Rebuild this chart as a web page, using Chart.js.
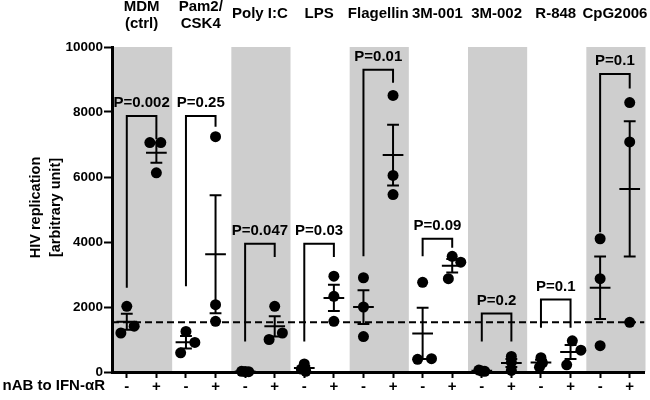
<!DOCTYPE html>
<html>
<head>
<meta charset="utf-8">
<title>HIV replication with TLR agonists</title>
<script src="https://cdn.jsdelivr.net/npm/chart.js@4.4.0/dist/chart.umd.min.js"></script>
<style>
    html, body { margin: 0; padding: 0; background: #fff; }
    #wrap { width: 650px; height: 400px; position: relative; }
</style>
</head>
<body>
<div id="wrap"><canvas id="hivChart"></canvas></div>
<script>
// Data

const groupLabels = [['MDM', '(ctrl)'], ['Pam2/', 'CSK4'], 'Poly I:C', 'LPS', 'Flagellin',
    '3M-001', '3M-002', 'R-848', 'CpG2006'];
const shadedGroups = [0, 2, 4, 6, 8];
const treatmentLabels = ['-', '+'];
const yTicks = [0, 2000, 4000, 6000, 8000, 10000];
const baseline = 1530;

// three donors per group, without (-) and with (+) blocking antibody
const withoutAb = [
    [2020, 1200, 1410],
    [1250, 910, 590],
    [20, 15, 10],
    [250, 90, 20],
    [2900, 2000, 1090],
    [2760, 390, 410],
    [60, 30, 20],
    [440, 280, 150],
    [4100, 2870, 810]
];
const withAb = [
    [7060, 7060, 6130],
    [7240, 2070, 1560],
    [2020, 1200, 1000],
    [2950, 2330, 1560],
    [8510, 6050, 5460],
    [3560, 3380, 2870],
    [480, 300, 50],
    [960, 670, 220],
    [8290, 7080, 1530]
];

// horizontal spread of overlapping dots (in column units)
const jitterWithout = [
    [0, -0.2, 0.25], [0, 0.3, -0.18], [-0.12, 0, 0.12], [0, -0.1, 0.05], [0, 0, 0],
    [0, -0.17, 0.3], [-0.1, 0, 0.1], [0, 0.05, -0.05], [0, 0, 0]
];
const jitterWith = [
    [-0.22, 0.15, 0], [0, 0, 0], [0, 0.26, -0.19], [0, 0, 0], [0, 0, 0],
    [0, 0.29, -0.13], [0, 0, 0], [0.06, 0.35, -0.13], [0, 0, 0]
];

// significance brackets
const pValues = ['P=0.002', 'P=0.25', 'P=0.047', 'P=0.03', 'P=0.01', 'P=0.09', 'P=0.2', 'P=0.1', 'P=0.1'];
const bracketTop = [7880, 7880, 3950, 3950, 9300, 4100, 1800, 2230, 9170];
const bracketLeftEnd = [2590, 2640, 940, 940, 3560, 3560, 940, 1360, 4300];
const bracketRightEnd = [7160, 7550, 3540, 3540, 8900, 3820, 940, 1360, 8720];

const FONT = '"Liberation Sans", Arial, Helvetica, sans-serif';
const CAP_HALF = 0.2;
const MEAN_HALF = 0.35;
const GAP = { x: 0, y: null };

function mean(vals) {
    return vals.reduce((a, b) => a + b, 0) / vals.length;
}

function sem(vals) {
    const m = mean(vals);
    const ss = vals.reduce((a, v) => a + (v - m) * (v - m), 0);
    return Math.sqrt(ss / (vals.length - 1)) / Math.sqrt(vals.length);
}

/**
 * Columns in plotting order: group0 -, group0 +, group1 -, ...
 */
function buildColumns() {
    const cols = [];
    withoutAb.forEach((vals, g) => {
        cols.push({ slot: g * 2, vals, jitter: jitterWithout[g] });
        cols.push({ slot: g * 2 + 1, vals: withAb[g], jitter: jitterWith[g] });
    });
    return cols;
}

const columns = buildColumns();

function buildPoints() {
    const pts = [];
    columns.forEach(c => {
        c.vals.forEach((v, i) => pts.push({ x: c.slot + c.jitter[i], y: v }));
    });
    return pts;
}

function buildErrorBars() {
    const pts = [];
    columns.forEach(c => {
        const m = mean(c.vals);
        const e = sem(c.vals);
        const s = c.slot;
        pts.push({ x: s, y: m - e }, { x: s, y: m + e }, GAP);
        pts.push({ x: s - CAP_HALF, y: m + e }, { x: s + CAP_HALF, y: m + e }, GAP);
        pts.push({ x: s - CAP_HALF, y: m - e }, { x: s + CAP_HALF, y: m - e }, GAP);
        pts.push({ x: s - MEAN_HALF, y: m }, { x: s + MEAN_HALF, y: m }, GAP);
    });
    return pts;
}

function buildBrackets() {
    const pts = [];
    bracketTop.forEach((top, g) => {
        const l = g * 2;
        const r = g * 2 + 1;
        pts.push({ x: l, y: bracketLeftEnd[g] }, { x: l, y: top },
            { x: r, y: top }, { x: r, y: bracketRightEnd[g] }, GAP);
    });
    return pts;
}

/**
 * Grey bands behind every other group, drawn before the axes
 */
const bandsPlugin = {
    id: 'bands',
    beforeDraw(chart) {
        const { ctx, scales: { x, y } } = chart;
        ctx.save();
        ctx.fillStyle = '#cecece';
        shadedGroups.forEach(g => {
            const x0 = x.getPixelForValue(g * 2 - 0.5);
            const x1 = x.getPixelForValue(g * 2 + 1.5);
            const y0 = y.getPixelForValue(yTicks[yTicks.length - 1]);
            const y1 = y.getPixelForValue(0);
            ctx.fillRect(x0 + 1, y0, x1 - x0, y1 - y0);
        });
        ctx.restore();
    }
};

/**
 * Text: group names, p-values, axis titles
 */
const labelsPlugin = {
    id: 'labels',
    afterDraw(chart) {
        const { ctx, scales: { x, y }, chartArea } = chart;
        ctx.save();
        ctx.fillStyle = '#000';
        ctx.textAlign = 'center';
        ctx.textBaseline = 'middle';

        // group names along the top
        ctx.font = 'bold 15px ' + FONT;
        groupLabels.forEach((lab, g) => {
            let cx = x.getPixelForValue(g * 2 + 0.5);
            const lines = Array.isArray(lab) ? lab : [lab];
            const w = Math.max(...lines.map(t => ctx.measureText(t).width));
            cx = Math.min(cx, chart.width - w / 2 - 2);
            if (lines.length === 1) {
                ctx.fillText(lines[0], cx, 14);
            } else {
                ctx.fillText(lines[0], cx, 7);
                ctx.fillText(lines[1], cx, 24);
            }
        });

        // p-values above brackets
        pValues.forEach((p, g) => {
            const cx = x.getPixelForValue(g * 2 + 0.5);
            ctx.fillText(p, cx, y.getPixelForValue(bracketTop[g]) - 13);
        });

        // treatment row label
        ctx.textAlign = 'right';
        ctx.fillText('nAB to IFN-\u03B1R', 105, 386);

        // y axis title
        ctx.font = 'bold 14.5px ' + FONT;
        ctx.textAlign = 'center';
        const cy = (chartArea.top + chartArea.bottom) / 2 - 2;
        ctx.translate(36, cy);
        ctx.rotate(-Math.PI / 2);
        ctx.fillText('HIV replication', 0, 0);
        ctx.fillText('[arbitrary unit]', 0, 20);
        ctx.restore();
    }
};

function initChart() {
    const canvas = document.getElementById('hivChart');
    const ctx = canvas.getContext('2d');
    const slotCount = groupLabels.length * 2;

    new Chart(ctx, {
        type: 'scatter',
        data: {
            datasets: [{
                label: 'Donors',
                data: buildPoints(),
                backgroundColor: '#000',
                borderWidth: 0,
                pointRadius: 5.5,
                clip: false
            }, {
                label: 'Mean ± SEM',
                data: buildErrorBars(),
                showLine: true,
                borderColor: '#000',
                borderWidth: 2,
                pointRadius: 0,
                spanGaps: false
            }, {
                label: 'Brackets',
                data: buildBrackets(),
                showLine: true,
                borderColor: '#000',
                borderWidth: 2,
                pointRadius: 0,
                spanGaps: false
            }, {
                label: 'Baseline',
                data: [{ x: -0.5, y: baseline }, { x: slotCount - 0.5, y: baseline }],
                showLine: true,
                borderColor: '#000',
                borderWidth: 2,
                borderDash: [7, 4],
                pointRadius: 0
            }]
        },
        options: {
            responsive: true,
            maintainAspectRatio: false,
            animation: false,
            events: [],
            layout: {
                padding: { top: 47, right: 1, left: 0, bottom: 0 }
            },
            scales: {
                x: {
                    type: 'linear',
                    min: -0.5,
                    max: slotCount - 0.5,
                    afterBuildTicks: scale => {
                        scale.ticks = Array.from({ length: slotCount }, (_, i) => ({ value: i }));
                    },
                    afterFit: scale => { scale.height = 28; },
                    grid: {
                        drawOnChartArea: false,
                        tickLength: 6,
                        tickWidth: 2,
                        tickColor: '#000'
                    },
                    border: { color: '#000', width: 3 },
                    ticks: {
                        padding: 0,
                        color: '#000',
                        font: { family: FONT, size: 15, weight: 'bold' },
                        maxRotation: 0,
                        autoSkip: false,
                        callback: v => treatmentLabels[v % 2]
                    }
                },
                y: {
                    min: 0,
                    max: yTicks[yTicks.length - 1],
                    afterBuildTicks: scale => {
                        scale.ticks = yTicks.map(v => ({ value: v }));
                    },
                    afterFit: scale => { scale.width = 112; },
                    grid: {
                        drawOnChartArea: false,
                        tickLength: 8,
                        tickWidth: 2,
                        tickColor: '#000'
                    },
                    border: { color: '#000', width: 3 },
                    ticks: {
                        padding: 1,
                        color: '#000',
                        font: { family: FONT, size: 13.5, weight: 'bold' },
                        callback: v => String(v)
                    }
                }
            },
            plugins: {
                legend: { display: false },
                tooltip: { enabled: false }
            }
        },
        plugins: [bandsPlugin, labelsPlugin]
    });
}

document.addEventListener('DOMContentLoaded', initChart);
</script>
</body>
</html>
